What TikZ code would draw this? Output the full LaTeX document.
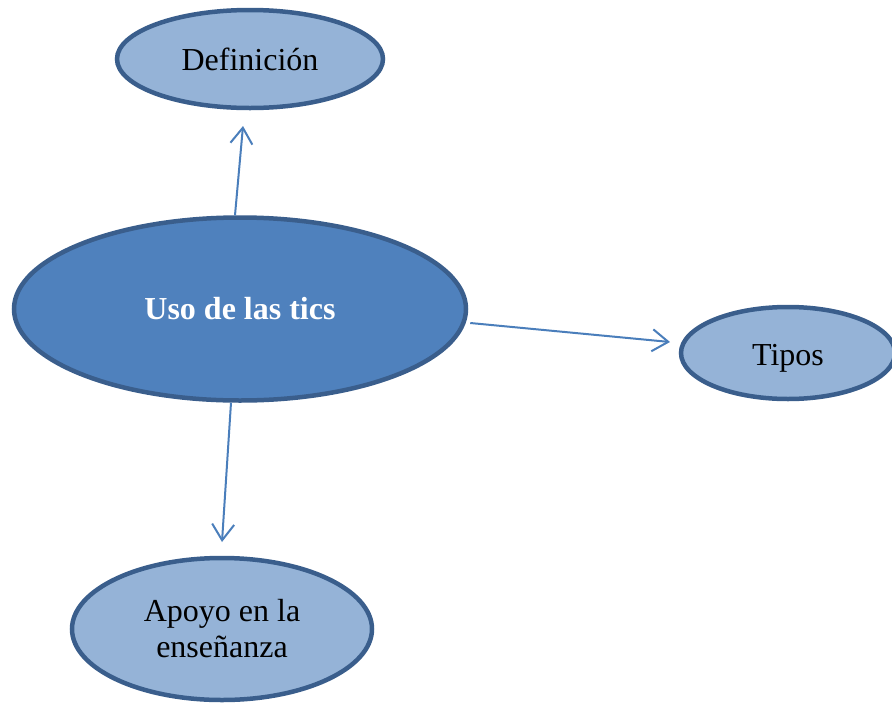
\documentclass[tikz,border=0pt]{standalone}
\usepackage{fontspec}
\setmainfont{Liberation Serif}
\usetikzlibrary{shapes.geometric,arrows.meta}
\definecolor{rim}{HTML}{3A5E8C}
\definecolor{lightfill}{HTML}{95B3D7}
\definecolor{darkfill}{HTML}{4F81BD}
\definecolor{arr}{HTML}{4A7EBB}
\begin{document}
\begin{tikzpicture}[x=1pt,y=-1pt,
  bubble/.style={ellipse,draw=rim,line width=4.5pt,fill=lightfill,inner sep=0pt,
    font=\fontsize{32}{36}\selectfont,align=center},
  conn/.style={draw=arr,line width=2pt,-{Straight Barb[length=16pt,width=22pt,line width=2pt]}}]
\useasboundingbox (0,0) rectangle (892,702);
\clip (0,0) rectangle (892,702);
\node[bubble,minimum width=266pt,minimum height=98pt] (def) at (250,59) {Definición};
\node[bubble,fill=darkfill,text=white,minimum width=452pt,minimum height=183pt,font=\fontsize{32}{36}\selectfont\bfseries] (uso) at (240,309) {Uso de las tics};
\node[bubble,minimum width=214pt,minimum height=92pt,text height=31pt,text depth=7pt] (tip) at (788,353) {Tipos};
\node[bubble,minimum width=300pt,minimum height=142pt] (apo) at (222,629) {Apoyo en la\\enseñanza};
\coordinate (t1) at (243,126);
\coordinate (t2) at (670,342);
\coordinate (t3) at (222,542);
\path (uso.north) ++(-5,0) coordinate (s1);
\path (uso.east) ++(2,14) coordinate (s2);
\path (uso.south) ++(-9,0) coordinate (s3);
\draw[conn] (s1) -- (t1);
\draw[conn] (s2) -- (t2);
\draw[conn] (s3) -- (t3);
\end{tikzpicture}
\end{document}
